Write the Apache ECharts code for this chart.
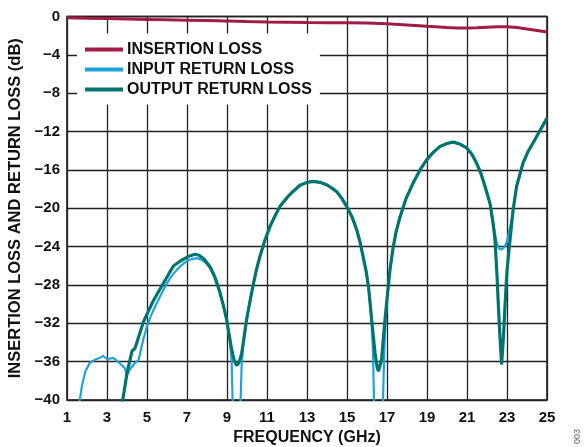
<!DOCTYPE html>
<html>
<head>
<meta charset="utf-8">
<script src="https://cdn.jsdelivr.net/npm/echarts@6/dist/echarts.min.js"></script>
<style>
html,body{margin:0;padding:0;background:#fff;}
#chart{width:585px;height:447px;}
</style>
</head>
<body>
<div id="chart"></div>
<script>
// Frequency tick labels (GHz) and dB tick range
const xTickLabels = [1,3,5,7,9,11,13,15,17,19,21,23,25];
const yTickValues = [0,-4,-8,-12,-16,-20,-24,-28,-32,-36,-40];

// Insertion loss
const irFreq = [1,2,3,4,5,6,7,8,9,10,11,12,13,14,15,16,17,18,19,20,20.5,21,21.5,22,22.5,23,23.5,24,24.5,25];
const irDb   = [-0.12,-0.18,-0.22,-0.26,-0.3,-0.34,-0.38,-0.43,-0.48,-0.53,-0.57,-0.6,-0.63,-0.64,-0.65,-0.68,-0.75,-0.88,-1.02,-1.15,-1.2,-1.2,-1.17,-1.12,-1.08,-1.08,-1.15,-1.3,-1.45,-1.62];

// Input return loss
const inFreq = [1.6,1.75,1.92,2.15,2.4,2.65,2.8,3.0,3.15,3.3,3.5,3.65,3.9,4.0,4.15,4.33,4.58,4.8,5.0,5.2,5.42,5.7,6.0,6.25,6.5,6.75,7.0,7.25,7.5,7.75,8.0,8.2,8.4,8.65,8.85,9.0,9.15,9.23,9.28,9.45,9.68,9.73,9.8,9.95,10.15,10.3,10.45,10.65,10.9,11.15,11.4,11.65,12.0,12.3,12.65,13.0,13.3,13.65,13.98,14.25,14.5,14.75,14.98,15.25,15.48,15.65,15.8,15.95,16.07,16.15,16.23,16.3,16.35,16.55,16.8,16.87,16.95,17.0,17.15,17.3,17.45,17.65,17.95,18.3,18.65,18.98,19.3,19.65,20.0,20.3,20.65,20.98,21.25,21.48,21.7,21.9,22.15,22.3,22.48,22.6,22.73,22.85,22.98,23.1,23.23,23.48,23.8,24.05,24.3,24.65,25.0];
const inDb   = [-40.5,-38.5,-37.0,-36.1,-35.8,-35.6,-35.4,-35.7,-35.7,-35.6,-35.9,-36.2,-36.7,-37.4,-36.8,-36.3,-35.8,-33.8,-32.3,-31.2,-30.2,-29.0,-27.8,-27.0,-26.4,-25.9,-25.5,-25.3,-25.2,-25.4,-25.8,-26.4,-27.3,-28.9,-30.5,-31.8,-34.0,-35.8,-40,-46,-40,-36.5,-34.5,-31.8,-29.7,-28.1,-26.6,-25.0,-23.3,-21.9,-20.8,-19.8,-18.9,-18.25,-17.6,-17.3,-17.2,-17.3,-17.55,-17.9,-18.3,-19.0,-19.8,-20.9,-22.2,-23.5,-25.0,-26.5,-28.1,-29.8,-31.8,-35.0,-40,-46,-40,-34.5,-31.0,-29.5,-26.4,-24.2,-22.5,-20.9,-19.0,-17.4,-16.0,-14.95,-14.2,-13.55,-13.25,-13.1,-13.3,-13.7,-14.4,-15.3,-16.4,-17.7,-19.5,-21.5,-23.6,-24.2,-24.3,-24.1,-23.6,-22.5,-21.2,-17.7,-15.3,-14.1,-13.2,-11.9,-10.6];

// Output return loss
const outFreq = [3.75,4.0,4.25,4.4,4.6,4.83,5.1,5.33,5.6,5.83,6.1,6.33,6.6,6.83,7.1,7.4,7.6,7.85,8.15,8.4,8.65,8.85,8.98,9.1,9.23,9.35,9.48,9.6,9.73,9.85,9.98,10.15,10.3,10.45,10.65,10.9,11.15,11.4,11.65,12.0,12.3,12.65,13.0,13.3,13.65,13.98,14.25,14.5,14.75,14.98,15.25,15.48,15.65,15.8,15.95,16.07,16.15,16.23,16.32,16.4,16.5,16.57,16.65,16.73,16.8,16.9,17.0,17.15,17.3,17.45,17.65,17.95,18.3,18.65,18.98,19.3,19.65,20.0,20.3,20.65,20.98,21.25,21.48,21.7,21.9,22.15,22.3,22.4,22.5,22.57,22.65,22.73,22.82,22.9,23.0,23.15,23.3,23.48,23.8,24.05,24.3,24.65,25.0];
const outDb   = [-40.5,-37.2,-34.9,-34.6,-33.3,-31.8,-30.6,-29.6,-28.6,-27.8,-26.8,-26.0,-25.6,-25.3,-25.0,-24.8,-24.9,-25.3,-26.1,-27.2,-28.8,-30.4,-31.6,-33.1,-34.7,-35.8,-36.4,-36.1,-35.2,-33.5,-31.6,-29.7,-28.1,-26.6,-25.0,-23.3,-21.9,-20.8,-19.8,-18.9,-18.25,-17.6,-17.3,-17.2,-17.3,-17.55,-17.9,-18.3,-19.0,-19.8,-20.9,-22.2,-23.5,-25.0,-26.5,-28.1,-29.8,-31.6,-33.4,-35.1,-36.5,-37.0,-36.8,-35.8,-34.0,-31.6,-29.5,-26.4,-24.2,-22.5,-20.9,-19.0,-17.4,-16.0,-14.95,-14.2,-13.55,-13.25,-13.1,-13.3,-13.7,-14.4,-15.3,-16.4,-17.7,-19.5,-21.5,-23.3,-27.0,-30.2,-33.5,-36.3,-33.5,-30.2,-26.5,-23.3,-20.3,-17.7,-15.3,-14.1,-13.2,-11.9,-10.6];

const seriesNames = ['INSERTION LOSS','INPUT RETURN LOSS','OUTPUT RETURN LOSS'];
const seriesColors = ['#A01C44','#1CA3DC','#007570'];

// x axis offset so ticks fall on odd GHz values (1,3,...,25)
const X0 = xTickLabels[0];
function pairs(fs, ds){ return fs.map((f,i)=>[f - X0, ds[i]]); }

const FONT = '"Liberation Sans", Arial, sans-serif';
const chart = echarts.init(document.getElementById('chart'), null, {renderer:'canvas'});
chart.setOption({
  animation:false,
  backgroundColor:'#fff',
  grid:{left:67,right:38,top:16.5,bottom:47,show:true,borderColor:'#111',borderWidth:1.5,
    backgroundColor:'transparent',containLabel:false,outerBoundsMode:'none'},
  xAxis:{
    type:'value', min:0, max:xTickLabels[xTickLabels.length-1]-X0, interval:2,
    name:'FREQUENCY (GHz)', nameLocation:'middle', nameGap:29,
    nameTextStyle:{fontFamily:FONT,fontWeight:'bold',fontSize:16,color:'#111'},
    axisLine:{show:false}, axisTick:{show:false},
    axisLabel:{fontFamily:FONT,fontWeight:'bold',fontSize:15,color:'#111',margin:10,
      formatter:v=>String(v+X0)},
    splitLine:{show:true,lineStyle:{color:'#222',width:1.3}}
  },
  yAxis:{
    type:'value', min:yTickValues[yTickValues.length-1], max:yTickValues[0], interval:4,
    name:'INSERTION LOSS AND RETURN LOSS (dB)', nameLocation:'middle', nameGap:39,
    nameTextStyle:{fontFamily:FONT,fontWeight:'bold',fontSize:16.5,color:'#111'},
    axisLine:{show:false}, axisTick:{show:false},
    axisLabel:{fontFamily:FONT,fontWeight:'bold',fontSize:15,color:'#111',margin:7,
      formatter:v=>String(v).replace('-','\u2212')},
    splitLine:{show:true,lineStyle:{color:'#222',width:1.3}}
  },
  legend:{
    show:true, orient:'vertical', left:77, top:33.5,
    backgroundColor:'#fff', padding:[8,8,7,8],
    icon:'rect', itemWidth:38, itemHeight:4, itemGap:4,
    textStyle:{fontFamily:FONT,fontWeight:'bold',fontSize:16,color:'#111',lineHeight:15,padding:[0,0,0,-1]},
    data:seriesNames
  },
  graphic:[{type:'text',left:573,top:429,rotation:Math.PI/2,
    style:{text:'003',font:'9px "Liberation Sans", Arial',fill:'#666'}}],
  series:[
    {name:seriesNames[0],type:'line',data:pairs(irFreq,irDb),showSymbol:false,symbol:'none',
     lineStyle:{color:seriesColors[0],width:3},itemStyle:{color:seriesColors[0]},clip:true},
    {name:seriesNames[1],type:'line',data:pairs(inFreq,inDb),showSymbol:false,symbol:'none',
     lineStyle:{color:seriesColors[1],width:2.2},itemStyle:{color:seriesColors[1]},clip:true},
    {name:seriesNames[2],type:'line',data:pairs(outFreq,outDb),showSymbol:false,symbol:'none',
     lineStyle:{color:seriesColors[2],width:3.2},itemStyle:{color:seriesColors[2]},clip:true}
  ]
});
</script>
</body>
</html>
